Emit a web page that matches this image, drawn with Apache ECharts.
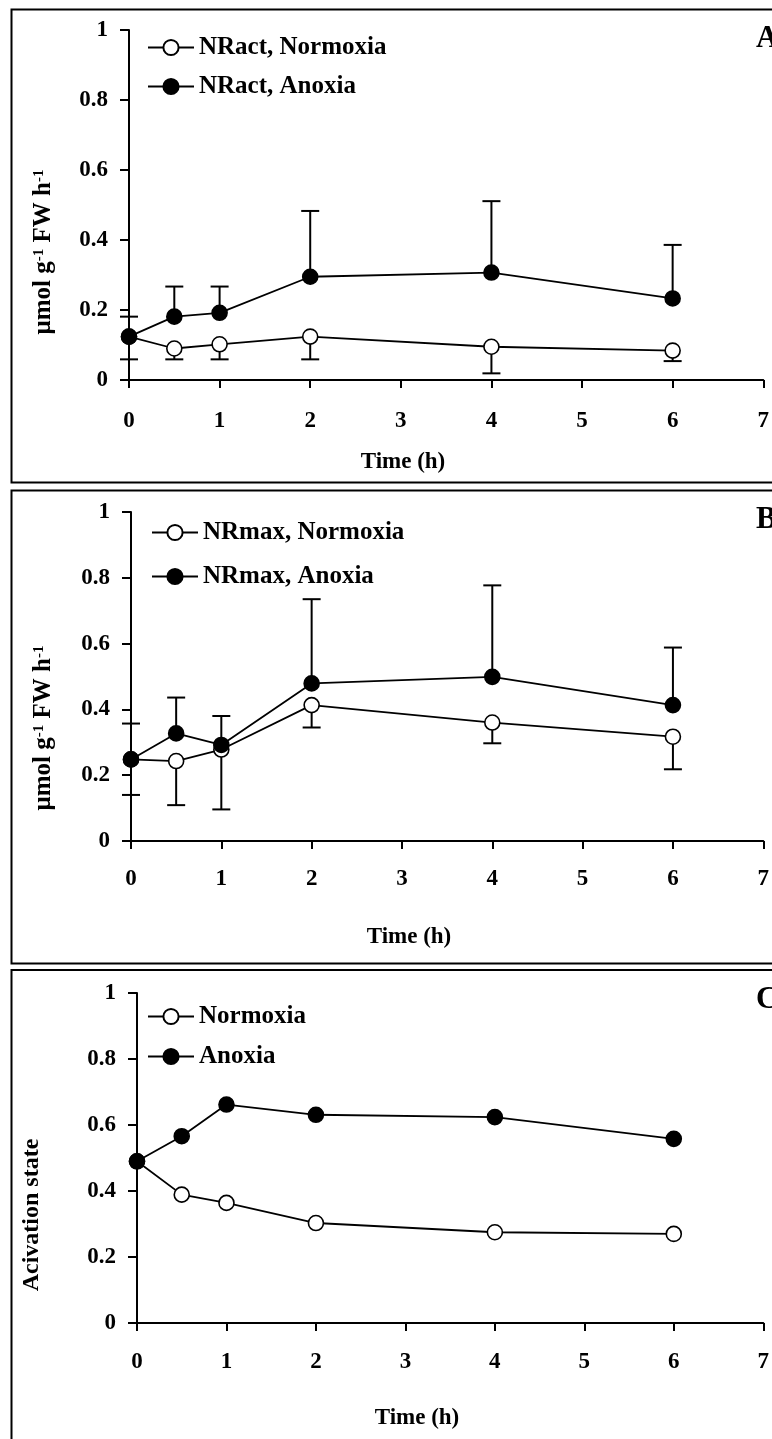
<!DOCTYPE html>
<html><head><meta charset="utf-8">
<script src="https://cdn.jsdelivr.net/npm/echarts@6/dist/echarts.min.js"></script>
<style>html,body{margin:0;padding:0;background:#fff}#c{width:772px;height:1439px}</style>
</head><body><div id="c"></div>
<script>
// ---- data ----
const timeH = [0, 0.5, 1, 2, 4, 6];
// Panel A: NRact
const nractNormoxia     = [0.124, 0.090, 0.102, 0.124, 0.095, 0.084];
const nractNormoxiaLow  = [0.059, 0.059, 0.059, 0.059, 0.019, 0.054];
const nractAnoxia       = [0.124, 0.181, 0.192, 0.295, 0.307, 0.233];
const nractAnoxiaHigh   = [0.181, 0.267, 0.267, 0.483, 0.511, 0.386];
// Panel B: NRmax
const nrmaxNormoxia     = [0.248, 0.243, 0.278, 0.413, 0.360, 0.317];
const nrmaxNormoxiaLow  = [0.140, 0.109, 0.096, 0.345, 0.297, 0.218];
const nrmaxAnoxia       = [0.248, 0.327, 0.292, 0.479, 0.499, 0.413];
const nrmaxAnoxiaHigh   = [0.357, 0.436, 0.380, 0.735, 0.777, 0.588];
// Panel C: activation state
const actNormoxia       = [0.490, 0.389, 0.364, 0.303, 0.275, 0.270];
const actAnoxia         = [0.490, 0.566, 0.662, 0.631, 0.624, 0.558];
// names / labels
const namesA = ['NRact, Normoxia', 'NRact, Anoxia'];
const namesB = ['NRmax, Normoxia', 'NRmax, Anoxia'];
const namesC = ['Normoxia', 'Anoxia'];
const panelLetters = ['A', 'B', 'C'];
const xTitle = 'Time (h)';
const yTitleAB = '{a|μmol g}{s|-1}{a| FW h}{s|-1}';
const yTitleC = 'Acivation state';

const FF = "'Liberation Serif','Times New Roman',serif";
const chart = echarts.init(document.getElementById('c'), null, {renderer: 'canvas'});

const grids = [
  {left: 129, top: 30, width: 644, height: 350},
  {left: 131, top: 512, width: 642, height: 329},
  {left: 137, top: 993, width: 634, height: 330}
];
const xLabelMargins = [30, 27, 28];

function xAx(i) {
  return {
    gridIndex: i, type: 'value', min: 0, max: 7, interval: 1,
    axisLine: {show: true, lineStyle: {color: '#000', width: 2}},
    axisTick: {show: true, inside: false, length: 8, lineStyle: {color: '#000', width: 2}},
    axisLabel: {color: '#000', fontFamily: FF, fontWeight: 'bold', fontSize: 23, margin: xLabelMargins[i], showMaxLabel: true, showMinLabel: true},
    splitLine: {show: false}
  };
}
function yAx(i) {
  return {
    gridIndex: i, type: 'value', min: 0, max: 1, interval: 0.2,
    axisLine: {show: true, lineStyle: {color: '#000', width: 2}},
    axisTick: {show: true, inside: false, length: 9, lineStyle: {color: '#000', width: 2}},
    axisLabel: {color: '#000', fontFamily: FF, fontWeight: 'bold', fontSize: 23, margin: 21},
    splitLine: {show: false}
  };
}

function lineSeries(i, name, vals, open) {
  return {
    type: 'line', name: name, xAxisIndex: i, yAxisIndex: i,
    data: timeH.map((t, k) => [t, vals[k]]),
    symbol: 'circle', symbolSize: 15, showSymbol: true,
    lineStyle: {color: '#000', width: 1.8},
    itemStyle: {color: open ? '#fff' : '#000', borderColor: '#000', borderWidth: 1.6},
    emphasis: {disabled: true}, silent: true, z: open ? 3 : 4, animation: false
  };
}
function errRender(params, api) {
  const x = api.value(0), m = api.value(1), e = api.value(2);
  const p1 = api.coord([x, m]), p2 = api.coord([x, e]);
  const hw = 9;
  return {type: 'group', children: [
    {type: 'line', shape: {x1: p1[0], y1: p1[1], x2: p2[0], y2: p2[1]}, style: {stroke: '#000', lineWidth: 2}},
    {type: 'line', shape: {x1: p2[0] - hw, y1: p2[1], x2: p2[0] + hw, y2: p2[1]}, style: {stroke: '#000', lineWidth: 2}}
  ]};
}
function errSeries(i, vals, ends) {
  return {
    type: 'custom', xAxisIndex: i, yAxisIndex: i, renderItem: errRender,
    data: timeH.map((t, k) => [t, vals[k], ends[k]]),
    encode: {x: 0, y: [1, 2]}, silent: true, z: 2, animation: false
  };
}

function legend(names, left, top, gap) {
  return {
    data: names, orient: 'vertical', left: left, top: top, padding: 0,
    itemWidth: 46, itemHeight: 19, itemGap: gap, selectedMode: false,
    textStyle: {fontFamily: FF, fontWeight: 'bold', fontSize: 25, color: '#000'}
  };
}

function txt(x, y, text, size, extra) {
  return Object.assign({
    type: 'text', x: x, y: y, silent: true,
    style: {text: text, fontFamily: FF, fontWeight: 'bold', fontSize: size, fill: '#000', align: 'center', verticalAlign: 'middle'}
  }, extra || {});
}
function letter(x, y, t) {
  return {type: 'text', x: x, y: y, silent: true,
    style: {text: t, fontFamily: FF, fontWeight: 'bold', fontSize: 31, fill: '#000', align: 'left', verticalAlign: 'middle'}};
}
function frame(y, h) {
  return {type: 'rect', silent: true, shape: {x: 11.5, y: y, width: 800, height: h},
    style: {fill: 'none', stroke: '#000', lineWidth: 2}};
}
const richAB = {
  a: {fontFamily: FF, fontWeight: 'bold', fontSize: 25, fill: '#000'},
  s: {fontFamily: FF, fontWeight: 'bold', fontSize: 15, fill: '#000', verticalAlign: 'top'}
};
function yTitleRich(x, y) {
  return {type: 'text', x: x, y: y, rotation: Math.PI / 2, silent: true,
    style: {text: yTitleAB, rich: richAB, align: 'center', verticalAlign: 'middle', fontFamily: FF, fontWeight: 'bold', fontSize: 25, fill: '#000'}};
}

const option = {
  backgroundColor: '#fff',
  animation: false,
  grid: grids,
  xAxis: [xAx(0), xAx(1), xAx(2)],
  yAxis: [yAx(0), yAx(1), yAx(2)],
  legend: [
    legend(namesA, 147, 35, 14),
    legend(namesB, 151, 520, 19),
    legend(namesC, 147, 1004, 15)
  ],
  series: [
    errSeries(0, nractNormoxia, nractNormoxiaLow),
    errSeries(0, nractAnoxia, nractAnoxiaHigh),
    lineSeries(0, namesA[0], nractNormoxia, true),
    lineSeries(0, namesA[1], nractAnoxia, false),
    errSeries(1, nrmaxNormoxia, nrmaxNormoxiaLow),
    errSeries(1, nrmaxAnoxia, nrmaxAnoxiaHigh),
    lineSeries(1, namesB[0], nrmaxNormoxia, true),
    lineSeries(1, namesB[1], nrmaxAnoxia, false),
    lineSeries(2, namesC[0], actNormoxia, true),
    lineSeries(2, namesC[1], actAnoxia, false)
  ],
  graphic: [
    frame(9.5, 473),
    frame(490.5, 473),
    frame(970, 520),
    letter(756, 39, panelLetters[0]),
    letter(756, 520, panelLetters[1]),
    letter(756, 1000, panelLetters[2]),
    txt(403, 462, xTitle, 23),
    txt(409, 937, xTitle, 23),
    txt(417, 1418, xTitle, 23),
    yTitleRich(44, 252),
    yTitleRich(44, 728),
    txt(32, 1215, yTitleC, 24, {rotation: Math.PI / 2})
  ]
};
chart.setOption(option);
</script>
</body></html>
